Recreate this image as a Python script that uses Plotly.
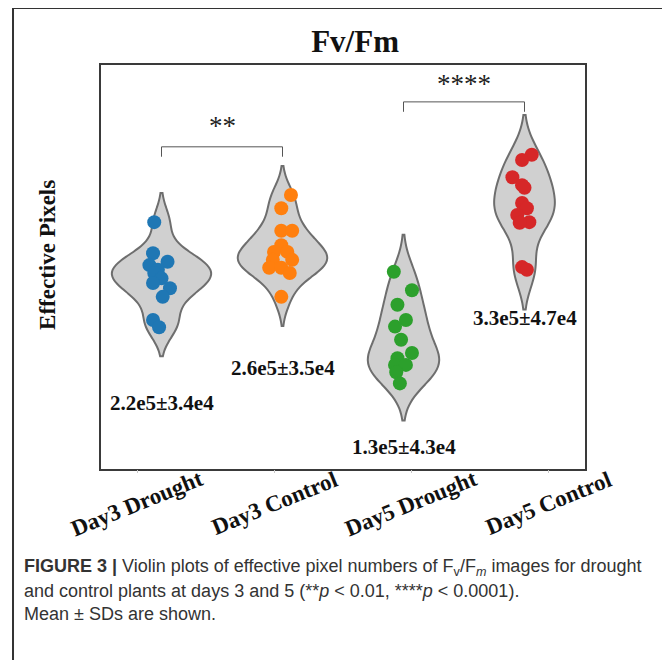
import plotly.graph_objects as go

# ---------------- data ----------------
categories = ["Day3 Drought", "Day3 Control", "Day5 Drought", "Day5 Control"]

day3_drought = [3.04e5, 2.57e5, 2.44e5, 2.39e5, 2.32e5, 2.27e5, 2.19e5, 2.12e5, 2.04e5, 1.91e5, 1.56e5, 1.45e5]
day3_control = [3.45e5, 3.25e5, 2.91e5, 2.91e5, 2.69e5, 2.59e5, 2.59e5, 2.47e5, 2.47e5, 2.35e5, 2.35e5, 2.27e5, 1.91e5]
day5_drought = [2.29e5, 2.01e5, 1.79e5, 1.56e5, 1.46e5, 1.26e5, 1.06e5, 0.98e5, 0.88e5, 0.88e5, 0.77e5, 0.60e5]
day5_control = [4.06e5, 3.98e5, 3.72e5, 3.60e5, 3.56e5, 3.33e5, 3.25e5, 3.15e5, 3.04e5, 3.03e5, 2.36e5, 2.32e5]

# horizontal jitter of each dot (in category widths)
jitter_d3d = [-0.06, -0.07, 0.05, -0.10, -0.03, -0.06, 0.0, -0.07, 0.07, 0.01, -0.07, -0.02]
jitter_d3c = [0.07, -0.01, -0.01, 0.08, -0.01, -0.07, 0.04, 0.08, -0.08, -0.11, -0.01, 0.06, -0.01]
jitter_d5d = [-0.08, 0.07, -0.05, 0.02, -0.07, -0.02, 0.07, -0.05, -0.07, 0.02, -0.06, -0.03]
jitter_d5c = [0.06, -0.02, -0.10, -0.02, 0.0, -0.02, 0.02, -0.06, 0.04, -0.04, -0.02, 0.02]

stat_labels = ["2.2e5±3.4e4", "2.6e5±3.5e4", "1.3e5±4.3e4", "3.3e5±4.7e4"]

# significance comparisons: (left group, right group, label)
comparisons = [(0, 1, "**"), (2, 3, "****")]

# ---------------- styles ----------------
dot_colors = ["#1f77b4", "#ff7f0e", "#2ca02c", "#d62728"]
violin_widths = [0.82, 0.74, 0.59, 0.50]
bandwidths = [0.22e5, 0.22e5, 0.28e5, 0.30e5]
stat_label_y = [0.30e5, 0.83e5, -0.36e5, 1.59e5]
bracket_y = [4.18e5, 4.86e5]
bracket_drop = 0.15e5
star_y = [4.50e5, 5.13e5]

series = [day3_drought, day3_control, day5_drought, day5_control]
jitters = [jitter_d3d, jitter_d3c, jitter_d5d, jitter_d5c]

SERIF = "Liberation Serif, Times New Roman, serif"
SANS = "Liberation Sans, Arial, sans-serif"

fig = go.Figure()

for i, vals in enumerate(series):
    fig.add_trace(go.Violin(
        x=[i] * len(vals), y=vals,
        width=violin_widths[i], bandwidth=bandwidths[i],
        spanmode="soft", scalemode="width", points=False,
        fillcolor="#d0d0d0", line=dict(color="#6e6e6e", width=2),
        box_visible=False, meanline_visible=False, opacity=1,
        showlegend=False, hoverinfo="skip",
    ))

for i, vals in enumerate(series):
    fig.add_trace(go.Scatter(
        x=[i + j for j in jitters[i]], y=vals, mode="markers",
        marker=dict(size=14, color=dot_colors[i], line=dict(width=0)),
        showlegend=False,
    ))

# invisible trace on the label axis so it is drawn
fig.add_trace(go.Scatter(x=categories, y=[None] * 4, xaxis="x2", yaxis="y",
                         mode="markers", showlegend=False, hoverinfo="skip"))

y_range = [-0.695e5, 5.418e5]

# the page body has an 8px margin; margins are shifted to compensate
fig.update_layout(
    width=670, height=660,
    margin=dict(l=93, r=93, t=57, b=199),
    paper_bgcolor="white", plot_bgcolor="white",
    xaxis=dict(range=[-0.5, 3.5], showticklabels=False, ticks="", showgrid=False, zeroline=False,
               showline=True, mirror=True, linecolor="#3a3a3a", linewidth=2),
    xaxis2=dict(overlaying="x", anchor="y", side="bottom", type="category",
                categoryorder="array", categoryarray=categories,
                range=[-0.263, 3.27], showticklabels=False, ticks="outside", ticklen=3,
                tickcolor="#c8c8c8", tickwidth=1, showgrid=False, zeroline=False, showline=False),
    yaxis=dict(range=y_range, showticklabels=False, ticks="", showgrid=False, zeroline=False,
               showline=True, mirror=True, linecolor="#3a3a3a", linewidth=2),
    title=dict(text="<b>Fv/Fm</b>", x=0.525, xref="paper", xanchor="center",
               y=1 - 33 / 660, yanchor="middle", font=dict(family=SERIF, size=31, color="#111")),
)

ann = []
# category labels (rotated)
label_y = -0.085
for c in categories:
    ann.append(dict(text="<b>" + c + "</b>", x=c, xref="x2", y=label_y, yref="paper",
                    textangle=-22, showarrow=False, font=dict(family=SERIF, size=23, color="#111"),
                    xanchor="center", yanchor="middle"))
# y title
ann.append(dict(text="<b>Effective Pixels</b>", x=-0.1095, xref="paper", y=0.53, yref="paper",
                textangle=-90, showarrow=False, font=dict(family=SERIF, size=23, color="#111"),
                xanchor="center", yanchor="middle"))
# mean ± SD labels
for i, t in enumerate(stat_labels):
    ann.append(dict(text="<b>" + t + "</b>", x=i, xref="x", y=stat_label_y[i], yref="y",
                    showarrow=False, font=dict(family=SERIF, size=21, color="#111"),
                    xanchor="center", yanchor="middle"))
# significance brackets and stars
br_col = "#555"
for k, (a, b, lab) in enumerate(comparisons):
    yt = bracket_y[k]
    yb = yt - bracket_drop
    fig.add_shape(type="path", xref="x", yref="y",
                  path=f"M {a},{yb} L {a},{yt} L {b},{yt} L {b},{yb}",
                  line=dict(color=br_col, width=1))
    ann.append(dict(text=lab, x=(a + b) / 2, xref="x", y=star_y[k], yref="y", showarrow=False,
                    font=dict(family=SERIF, size=27, color="#222")))
# caption
cap_font = dict(family=SANS, size=18, color="#333")
cap_lines = [
    "<b>FIGURE 3 |</b> Violin plots of effective pixel numbers of F<sub>v</sub>/F<sub><i>m</i></sub> images for drought",
    "and control plants at days 3 and 5 (**<i>p</i> &lt; 0.01, ****<i>p</i> &lt; 0.0001).",
    "Mean ± SDs are shown.",
]
cap_y = [-0.2426, -0.302, -0.359]
for t, yy in zip(cap_lines, cap_y):
    ann.append(dict(text=t, x=-0.163, xref="paper", y=yy, yref="paper", showarrow=False,
                    xanchor="left", yanchor="middle", align="left", font=cap_font))
fig.update_layout(annotations=ann)

# outer figure frame (left and top edges)
fig.add_shape(type="path", xref="paper", yref="paper",
              path="M -0.1818,-0.5 L -0.1818,1.141 L 1.2,1.141",
              line=dict(color="#333", width=2))

fig.write_html("out.html")
